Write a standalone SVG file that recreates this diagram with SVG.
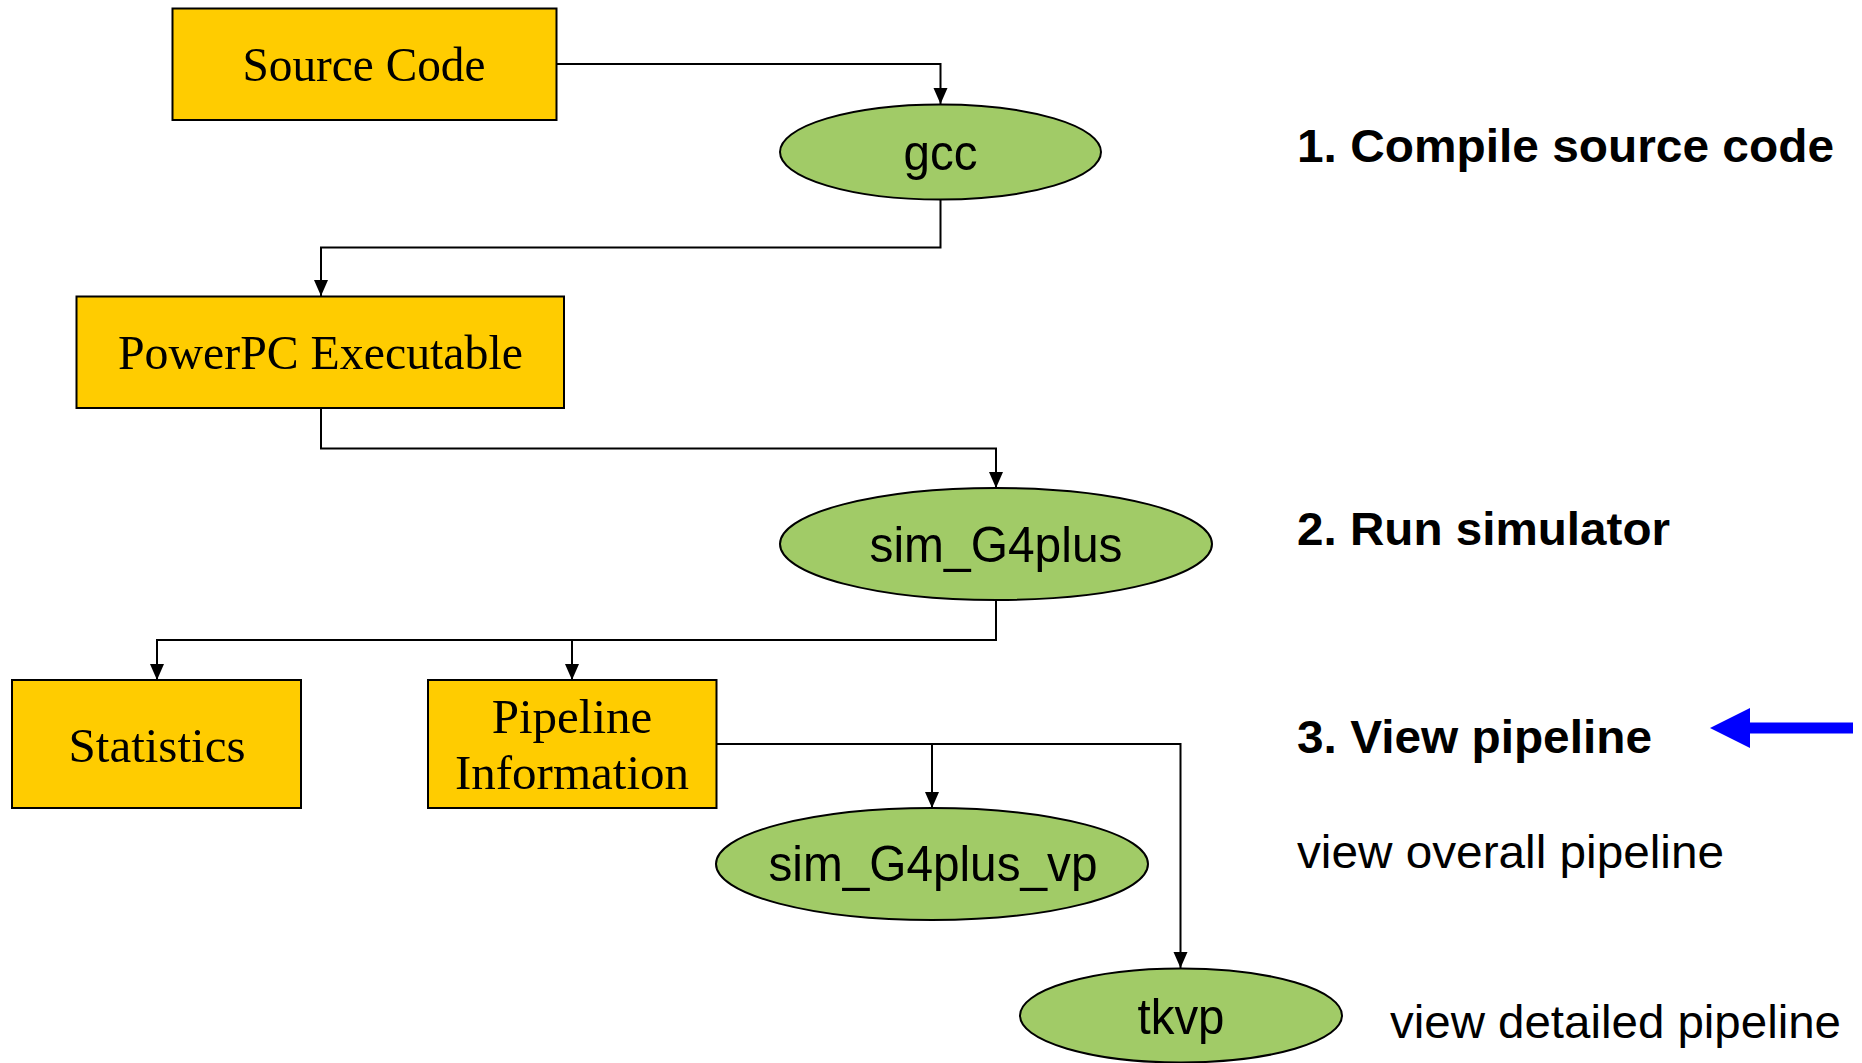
<svg xmlns="http://www.w3.org/2000/svg" width="1862" height="1063" viewBox="0 0 1862 1063">
<style>
.box{fill:#FFCC00;stroke:#000;stroke-width:2}
.ell{fill:#A1CB67;stroke:#000;stroke-width:2}
.serif{font-family:"Liberation Serif","Times New Roman",serif;font-size:49px;fill:#000;text-anchor:middle}
.sans{font-family:"Liberation Sans",Arial,Helvetica,sans-serif;font-size:50px;fill:#000;text-anchor:middle}
.step{font-family:"Liberation Sans",Arial,Helvetica,sans-serif;font-size:47px;font-weight:bold;fill:#000}
.note{font-family:"Liberation Sans",Arial,Helvetica,sans-serif;font-size:47px;fill:#000}
.conn{fill:none;stroke:#000;stroke-width:2}
</style>
<defs>
<marker id="ah" markerUnits="userSpaceOnUse" markerWidth="16" markerHeight="16" refX="16" refY="7" orient="auto">
<path d="M0,0 L16,7 L0,14 Z" fill="#000"/>
</marker>
</defs>
<rect width="1862" height="1063" fill="#fff"/>
<g id="connectors">
<path class="conn" d="M556,64 H940.5 V104" marker-end="url(#ah)"/>
<path class="conn" d="M940.5,199.5 V247.5 H321 V296" marker-end="url(#ah)"/>
<path class="conn" d="M321,408 V448.5 H996 V488" marker-end="url(#ah)"/>
<path class="conn" d="M996,600 V640 H157 V680" marker-end="url(#ah)"/>
<path class="conn" d="M572,640 V680" marker-end="url(#ah)"/>
<path class="conn" d="M716,744 H1180.5 V968" marker-end="url(#ah)"/>
<path class="conn" d="M932,744 V808" marker-end="url(#ah)"/>
</g>
<g id="node-source-code">
<rect class="box" x="172.5" y="8.5" width="384" height="111.5"/>
<text class="serif" x="364" y="81" textLength="243" lengthAdjust="spacingAndGlyphs">Source Code</text>
</g>
<g id="node-gcc">
<ellipse class="ell" cx="940.5" cy="152" rx="160.5" ry="47.5"/>
<text class="sans" x="940.5" y="170" textLength="74" lengthAdjust="spacingAndGlyphs">gcc</text>
</g>
<g id="node-powerpc">
<rect class="box" x="76.5" y="296.5" width="487.5" height="111.5"/>
<text class="serif" x="320.5" y="369" textLength="405" lengthAdjust="spacingAndGlyphs">PowerPC Executable</text>
</g>
<g id="node-sim-g4plus">
<ellipse class="ell" cx="996" cy="544" rx="216" ry="56"/>
<text class="sans" x="996" y="562" textLength="253" lengthAdjust="spacingAndGlyphs">sim_G4plus</text>
</g>
<g id="node-statistics">
<rect class="box" x="12" y="680" width="289" height="128"/>
<text class="serif" x="157" y="762">Statistics</text>
</g>
<g id="node-pipeline-info">
<rect class="box" x="428" y="680" width="288.5" height="128"/>
<text class="serif" x="572" y="733">Pipeline</text>
<text class="serif" x="572" y="789">Information</text>
</g>
<g id="node-sim-g4plus-vp">
<ellipse class="ell" cx="932" cy="864" rx="216" ry="56"/>
<text class="sans" x="933" y="881" textLength="329" lengthAdjust="spacingAndGlyphs">sim_G4plus_vp</text>
</g>
<g id="node-tkvp">
<ellipse class="ell" cx="1181" cy="1015.5" rx="161" ry="47"/>
<text class="sans" x="1181" y="1034" textLength="87" lengthAdjust="spacingAndGlyphs">tkvp</text>
</g>
<g id="labels">
<text class="step" x="1297" y="162" textLength="537" lengthAdjust="spacingAndGlyphs">1. Compile source code</text>
<text class="step" x="1297" y="545" textLength="373" lengthAdjust="spacingAndGlyphs">2. Run simulator</text>
<text class="step" x="1297" y="753" textLength="355" lengthAdjust="spacingAndGlyphs">3. View pipeline</text>
<text class="note" x="1297" y="868" textLength="427" lengthAdjust="spacingAndGlyphs">view overall pipeline</text>
<text class="note" x="1390" y="1038" textLength="451" lengthAdjust="spacingAndGlyphs">view detailed pipeline</text>
</g>
<g id="pointer">
<rect x="1748" y="722.5" width="105" height="11" fill="#0000FF"/>
<path d="M1710,728 L1750,708 L1750,748 Z" fill="#0000FF"/>
</g>
</svg>
